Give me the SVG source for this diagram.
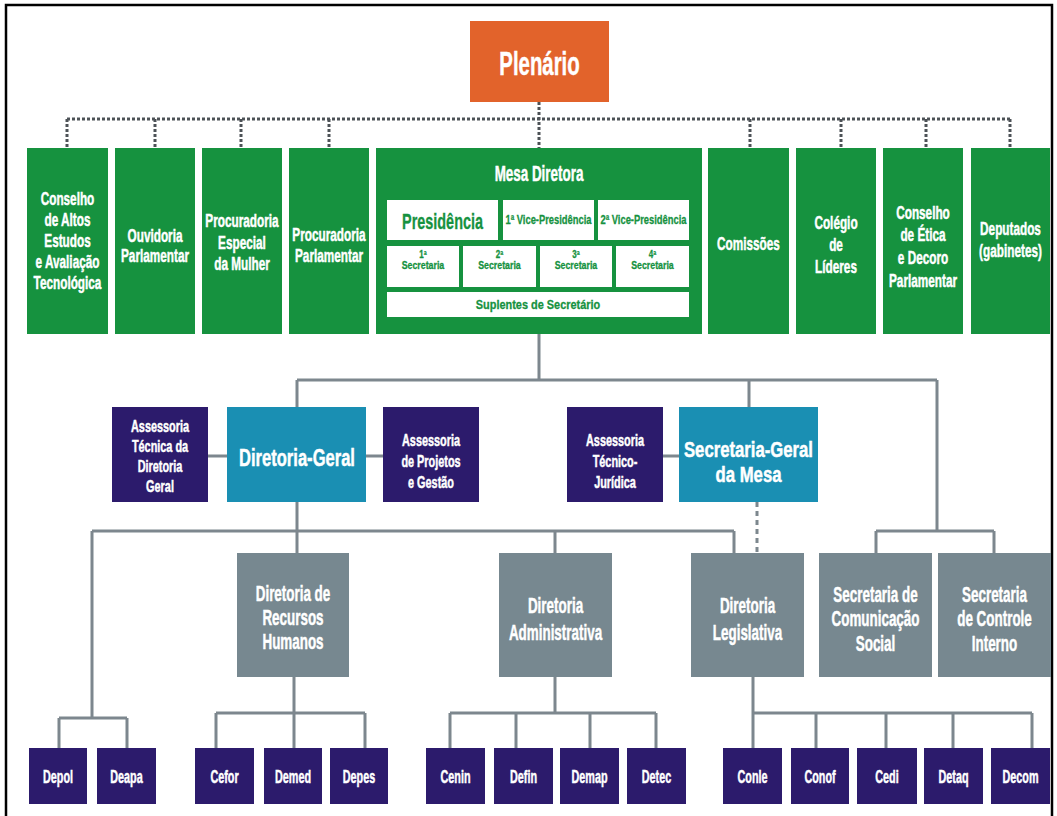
<svg xmlns="http://www.w3.org/2000/svg" width="1057" height="816" viewBox="0 0 1057 816">
<style>
.g{fill:#16923f}.o{fill:#e2632b}.n{fill:#2c1b6c}.tl{fill:#1a8fb3}.gr{fill:#778890}.w{fill:#fff}
text{font-family:'Liberation Sans',Arial,sans-serif;font-weight:bold;text-anchor:middle;fill:#fff;stroke:#fff;stroke-width:0.5}
text.tg{fill:#16923f;stroke:#16923f;stroke-width:0.3}
.c{stroke:#7d878e;stroke-width:3;fill:none}
.d{stroke:#4d5257;stroke-width:3;stroke-dasharray:3 2;fill:none}
.dl{stroke:#7d878e;stroke-width:3;stroke-dasharray:5 4;fill:none}
.gt{font-size:19px}.nt{font-size:17px}.gyt{font-size:22px}.bt{font-size:18px}
</style>
<rect x="0" y="0" width="1057" height="816" fill="#fff"/>
<rect x="6" y="5" width="1046" height="830" fill="none" stroke="#000" stroke-width="2.5"/>

<g id="connectors">
  <path class="d" d="M67 119H1011M539 102V148M67 119V148M155 119V148M241 119V148M329 119V148M750 119V148M841 119V148M926 119V148M1010 119V148"/>
  <path class="c" d="M539 333V380M297 380H937M297 380V407M749 380V407M937 380V531M876 531H994M876 531V553M994 531V553"/>
  <path class="c" d="M208 456H227M366 456H383M663 456H679"/>
  <path class="c" d="M297 502V553M92 531H734M92 531V718M555 531V553M734 531V553"/>
  <path class="dl" d="M757 502V553"/>
  <path class="c" d="M59 718H127M59 718V748M127 718V748"/>
  <path class="c" d="M294 677V748M216 713H365M216 713V748M365 713V748"/>
  <path class="c" d="M555 677V713M450 713H656M450 713V748M516 713V748M590 713V748M656 713V748"/>
  <path class="c" d="M753 677V748M753 713H1032M816 713V748M886 713V748M953 713V748M1032 713V748"/>
</g>

<g id="plenario">
  <rect class="o" x="470" y="21" width="139" height="81"/>
  <text transform="translate(539.5 0) scale(0.6 1)" x="0" y="75" style="font-size:34px">Plenário</text>
</g>

<g id="conselho-altos">
  <rect class="g" x="27" y="148" width="81" height="186"/>
  <text class="gt" transform="translate(67.5 0) scale(0.62 1)"><tspan x="0" y="205">Conselho</tspan><tspan x="0" y="226">de Altos</tspan><tspan x="0" y="247">Estudos</tspan><tspan x="0" y="268">e Avaliação</tspan><tspan x="0" y="289">Tecnológica</tspan></text>
</g>
<g id="ouvidoria">
  <rect class="g" x="115" y="148" width="80" height="186"/>
  <text class="gt" transform="translate(155 0) scale(0.62 1)"><tspan x="0" y="242">Ouvidoria</tspan><tspan x="0" y="262">Parlamentar</tspan></text>
</g>
<g id="procuradoria-mulher">
  <rect class="g" x="202" y="148" width="80" height="186"/>
  <text class="gt" transform="translate(242 0) scale(0.62 1)"><tspan x="0" y="227">Procuradoria</tspan><tspan x="0" y="249">Especial</tspan><tspan x="0" y="270">da Mulher</tspan></text>
</g>
<g id="procuradoria-parlamentar">
  <rect class="g" x="289" y="148" width="80" height="186"/>
  <text class="gt" transform="translate(329 0) scale(0.62 1)"><tspan x="0" y="241">Procuradoria</tspan><tspan x="0" y="262">Parlamentar</tspan></text>
</g>

<g id="mesa-diretora">
  <rect class="g" x="376" y="148" width="326" height="186"/>
  <text transform="translate(539 0) scale(0.61 1)" x="0" y="181" style="font-size:22px">Mesa Diretora</text>
  <rect class="w" x="387" y="200" width="111" height="40"/>
  <rect class="w" x="503" y="200" width="91" height="40"/>
  <rect class="w" x="598" y="200" width="91" height="40"/>
  <rect class="w" x="387" y="246" width="72" height="41"/>
  <rect class="w" x="463" y="246" width="73" height="41"/>
  <rect class="w" x="540" y="246" width="72" height="41"/>
  <rect class="w" x="616" y="246" width="73" height="41"/>
  <rect class="w" x="387" y="292" width="302" height="25"/>
  <text class="tg" transform="translate(442.5 0) scale(0.656 1)" x="0" y="229" style="font-size:22px">Presidência</text>
  <text class="tg" transform="translate(548.5 0) scale(0.72 1)" x="0" y="224" style="font-size:13px">1ª Vice-Presidência</text>
  <text class="tg" transform="translate(643.5 0) scale(0.72 1)" x="0" y="224" style="font-size:13px">2ª Vice-Presidência</text>
  <text class="tg" transform="translate(423 0) scale(0.8 1)" style="font-size:11px"><tspan x="0" y="258" style="font-size:10px">1ª</tspan><tspan x="0" y="269">Secretaria</tspan></text>
  <text class="tg" transform="translate(499.5 0) scale(0.8 1)" style="font-size:11px"><tspan x="0" y="258" style="font-size:10px">2ª</tspan><tspan x="0" y="269">Secretaria</tspan></text>
  <text class="tg" transform="translate(576 0) scale(0.8 1)" style="font-size:11px"><tspan x="0" y="258" style="font-size:10px">3ª</tspan><tspan x="0" y="269">Secretaria</tspan></text>
  <text class="tg" transform="translate(652.5 0) scale(0.8 1)" style="font-size:11px"><tspan x="0" y="258" style="font-size:10px">4ª</tspan><tspan x="0" y="269">Secretaria</tspan></text>
  <text class="tg" transform="translate(538 0) scale(0.84 1)" x="0" y="309" style="font-size:13px">Suplentes de Secretário</text>
</g>

<g id="comissoes">
  <rect class="g" x="708" y="148" width="81" height="186"/>
  <text class="gt" transform="translate(748.5 0) scale(0.62 1)" x="0" y="250">Comissões</text>
</g>
<g id="colegio-lideres">
  <rect class="g" x="796" y="148" width="80" height="186"/>
  <text class="gt" transform="translate(836 0) scale(0.62 1)"><tspan x="0" y="229">Colégio</tspan><tspan x="0" y="251">de</tspan><tspan x="0" y="273">Líderes</tspan></text>
</g>
<g id="conselho-etica">
  <rect class="g" x="883" y="148" width="80" height="186"/>
  <text class="gt" transform="translate(923 0) scale(0.62 1)"><tspan x="0" y="219">Conselho</tspan><tspan x="0" y="241">de Ética</tspan><tspan x="0" y="264">e Decoro</tspan><tspan x="0" y="287">Parlamentar</tspan></text>
</g>
<g id="deputados">
  <rect class="g" x="971" y="148" width="79" height="186"/>
  <text class="gt" transform="translate(1010.5 0) scale(0.62 1)"><tspan x="0" y="235">Deputados</tspan><tspan x="0" y="257">(gabinetes)</tspan></text>
</g>

<g id="assessoria-tecnica-dg">
  <rect class="n" x="112" y="407" width="96" height="95"/>
  <text class="nt" transform="translate(160 0) scale(0.64 1)"><tspan x="0" y="432">Assessoria</tspan><tspan x="0" y="452">Técnica da</tspan><tspan x="0" y="472">Diretoria</tspan><tspan x="0" y="492">Geral</tspan></text>
</g>
<g id="diretoria-geral">
  <rect class="tl" x="227" y="407" width="139" height="95"/>
  <text transform="translate(297 0) scale(0.69 1)" x="0" y="466" style="font-size:24px">Diretoria-Geral</text>
</g>
<g id="assessoria-projetos">
  <rect class="n" x="383" y="407" width="96" height="95"/>
  <text class="nt" transform="translate(431 0) scale(0.64 1)"><tspan x="0" y="446">Assessoria</tspan><tspan x="0" y="467">de Projetos</tspan><tspan x="0" y="488">e Gestão</tspan></text>
</g>
<g id="assessoria-tecnico-juridica">
  <rect class="n" x="567" y="407" width="96" height="95"/>
  <text class="nt" transform="translate(615 0) scale(0.64 1)"><tspan x="0" y="446">Assessoria</tspan><tspan x="0" y="467">Técnico-</tspan><tspan x="0" y="488">Jurídica</tspan></text>
</g>
<g id="secretaria-geral-mesa">
  <rect class="tl" x="679" y="407" width="139" height="95"/>
  <text transform="translate(748.5 0) scale(0.76 1)" style="font-size:22px"><tspan x="0" y="457">Secretaria-Geral</tspan><tspan x="0" y="482">da Mesa</tspan></text>
</g>

<g id="diretoria-rh">
  <rect class="gr" x="237" y="553" width="112" height="124"/>
  <text class="gyt" transform="translate(293 0) scale(0.61 1)"><tspan x="0" y="601">Diretoria de</tspan><tspan x="0" y="625">Recursos</tspan><tspan x="0" y="649">Humanos</tspan></text>
</g>
<g id="diretoria-administrativa">
  <rect class="gr" x="499" y="553" width="113" height="124"/>
  <text class="gyt" transform="translate(555.5 0) scale(0.61 1)"><tspan x="0" y="613">Diretoria</tspan><tspan x="0" y="640">Administrativa</tspan></text>
</g>
<g id="diretoria-legislativa">
  <rect class="gr" x="691" y="553" width="113" height="124"/>
  <text class="gyt" transform="translate(747.5 0) scale(0.61 1)"><tspan x="0" y="613">Diretoria</tspan><tspan x="0" y="640">Legislativa</tspan></text>
</g>
<g id="secretaria-comunicacao">
  <rect class="gr" x="819" y="553" width="113" height="124"/>
  <text class="gyt" transform="translate(875.5 0) scale(0.61 1)"><tspan x="0" y="602">Secretaria de</tspan><tspan x="0" y="626">Comunicação</tspan><tspan x="0" y="651">Social</tspan></text>
</g>
<g id="secretaria-controle">
  <rect class="gr" x="938" y="553" width="113" height="124"/>
  <text class="gyt" transform="translate(994.5 0) scale(0.61 1)"><tspan x="0" y="602">Secretaria</tspan><tspan x="0" y="626">de Controle</tspan><tspan x="0" y="651">Interno</tspan></text>
</g>

<g id="depol"><rect class="n" x="29" y="748" width="58" height="56"/><text class="bt" transform="translate(58 0) scale(0.6 1)" x="0" y="783">Depol</text></g>
<g id="deapa"><rect class="n" x="97" y="748" width="59" height="56"/><text class="bt" transform="translate(126.5 0) scale(0.6 1)" x="0" y="783">Deapa</text></g>
<g id="cefor"><rect class="n" x="195" y="748" width="59" height="56"/><text class="bt" transform="translate(224.5 0) scale(0.6 1)" x="0" y="783">Cefor</text></g>
<g id="demed"><rect class="n" x="264" y="748" width="58" height="56"/><text class="bt" transform="translate(293 0) scale(0.6 1)" x="0" y="783">Demed</text></g>
<g id="depes"><rect class="n" x="330" y="748" width="58" height="56"/><text class="bt" transform="translate(359 0) scale(0.6 1)" x="0" y="783">Depes</text></g>
<g id="cenin"><rect class="n" x="426" y="748" width="59" height="56"/><text class="bt" transform="translate(455.5 0) scale(0.6 1)" x="0" y="783">Cenin</text></g>
<g id="defin"><rect class="n" x="494" y="748" width="59" height="56"/><text class="bt" transform="translate(523.5 0) scale(0.6 1)" x="0" y="783">Defin</text></g>
<g id="demap"><rect class="n" x="560" y="748" width="59" height="56"/><text class="bt" transform="translate(589.5 0) scale(0.6 1)" x="0" y="783">Demap</text></g>
<g id="detec"><rect class="n" x="627" y="748" width="59" height="56"/><text class="bt" transform="translate(656.5 0) scale(0.6 1)" x="0" y="783">Detec</text></g>
<g id="conle"><rect class="n" x="723" y="748" width="59" height="56"/><text class="bt" transform="translate(752.5 0) scale(0.6 1)" x="0" y="783">Conle</text></g>
<g id="conof"><rect class="n" x="791" y="748" width="58" height="56"/><text class="bt" transform="translate(820 0) scale(0.6 1)" x="0" y="783">Conof</text></g>
<g id="cedi"><rect class="n" x="857" y="748" width="60" height="56"/><text class="bt" transform="translate(887 0) scale(0.6 1)" x="0" y="783">Cedi</text></g>
<g id="detaq"><rect class="n" x="924" y="748" width="59" height="56"/><text class="bt" transform="translate(953.5 0) scale(0.6 1)" x="0" y="783">Detaq</text></g>
<g id="decom"><rect class="n" x="991" y="748" width="59" height="56"/><text class="bt" transform="translate(1020.5 0) scale(0.6 1)" x="0" y="783">Decom</text></g>
</svg>
